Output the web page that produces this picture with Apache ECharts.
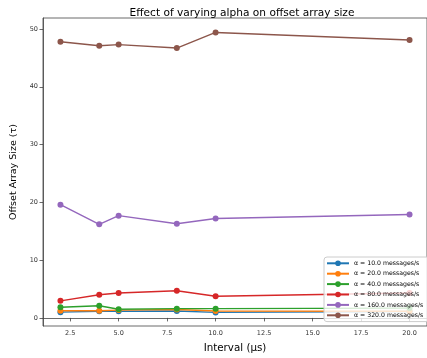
<!DOCTYPE html>
<html>
<head>
<meta charset="utf-8">
<script src="https://cdn.jsdelivr.net/npm/echarts@6/dist/echarts.min.js"></script>
<style>
  html, body { margin: 0; padding: 0; background: #fff; }
  #chart { width: 427px; height: 358px; }
</style>
</head>
<body>
<div id="chart"></div>
<script>
// Intervals in microseconds
const intervals = [2, 4, 5, 8, 10, 20];

// Offset array size per arrival rate alpha
const alpha10  = [1.0, 1.15, 1.15, 1.2, 0.95, 1.1];
const alpha20  = [1.25, 1.25, 1.35, 1.45, 1.2, 1.15];
const alpha40  = [1.85, 2.1, 1.5, 1.6, 1.6, 1.7];
const alpha80  = [2.95, 4.0, 4.3, 4.7, 3.75, 4.3];
const alpha160 = [19.6, 16.2, 17.7, 16.3, 17.2, 17.9];
const alpha320 = [47.8, 47.1, 47.3, 46.7, 49.4, 48.1];

const seriesNames = [
  'α = 10.0 messages/s', 'α = 20.0 messages/s', 'α = 40.0 messages/s',
  'α = 80.0 messages/s', 'α = 160.0 messages/s', 'α = 320.0 messages/s'
];
const seriesValues = [alpha10, alpha20, alpha40, alpha80, alpha160, alpha320];
const colors = ['#1f77b4', '#ff7f0e', '#2ca02c', '#d62728', '#9467bd', '#8c564b'];

const xTicks = [2.5, 5.0, 7.5, 10.0, 12.5, 15.0, 17.5, 20.0];
const yTicks = [0, 10, 20, 30, 40, 50];

const font = 'DejaVu Sans';
const chart = echarts.init(document.getElementById('chart'), null, { renderer: 'canvas' });

const series = seriesValues.map((vals, i) => ({
  name: seriesNames[i],
  type: 'line',
  data: intervals.map((x, j) => [x, vals[j]]),
  symbol: 'circle',
  symbolSize: 6,
  lineStyle: { width: 1.4, color: colors[i] },
  itemStyle: { color: colors[i] },
  emphasis: { disabled: true },
  animation: false
}));

chart.setOption({
  animation: false,
  color: colors,
  title: {
    text: 'Effect of varying alpha on offset array size',
    left: 237, top: 3, textAlign: 'center',
    textStyle: { fontFamily: font, fontSize: 10.6, fontWeight: 'normal', color: '#000' }
  },
  grid: {
    left: 43, right: -5, top: 18, bottom: 32,
    show: true, borderColor: '#444', borderWidth: 0.8, backgroundColor: 'transparent'
  },
  xAxis: {
    type: 'value', min: 1.1, max: 20.9,
    name: 'Interval (μs)',
    nameLocation: 'middle', nameGap: 17,
    nameTextStyle: { fontFamily: font, fontSize: 10.3, color: '#000' },
    axisLine: { show: true, lineStyle: { color: '#444', width: 0.8 } },
    axisTick: { show: true, length: 3.5, lineStyle: { color: '#444', width: 0.8 }, customValues: xTicks },
    axisLabel: {
      fontFamily: font, fontSize: 6.5, color: '#333', margin: 4,
      customValues: xTicks,
      formatter: v => v.toFixed(1)
    },
    splitLine: { show: false }
  },
  yAxis: {
    type: 'value', min: -1.4, max: 51.9,
    name: 'Offset Array Size (τ)',
    nameLocation: 'middle', nameGap: 24, nameRotate: 90,
    nameMoveOverlap: false,
    nameTextStyle: { fontFamily: font, fontSize: 9.5, color: '#000' },
    axisLine: { show: true, lineStyle: { color: '#444', width: 0.8 } },
    axisTick: { show: true, length: 3.5, lineStyle: { color: '#444', width: 0.8 }, customValues: yTicks },
    axisLabel: {
      fontFamily: font, fontSize: 6.5, color: '#333', margin: 5,
      customValues: yTicks
    },
    splitLine: { show: false }
  },
  legend: {
    orient: 'vertical',
    left: 324, top: 257,
    itemWidth: 22, itemHeight: 7, itemGap: 3.4,
    padding: [2.8, 6, 2.8, 2],
    backgroundColor: 'rgba(255,255,255,0.8)',
    borderColor: '#ccc', borderWidth: 1, borderRadius: 3,
    textStyle: { fontFamily: font, fontSize: 6.2, lineHeight: 7, color: '#000' },
    data: seriesNames,
    selectedMode: false
  },
  series: series
});
</script>
</body>
</html>
